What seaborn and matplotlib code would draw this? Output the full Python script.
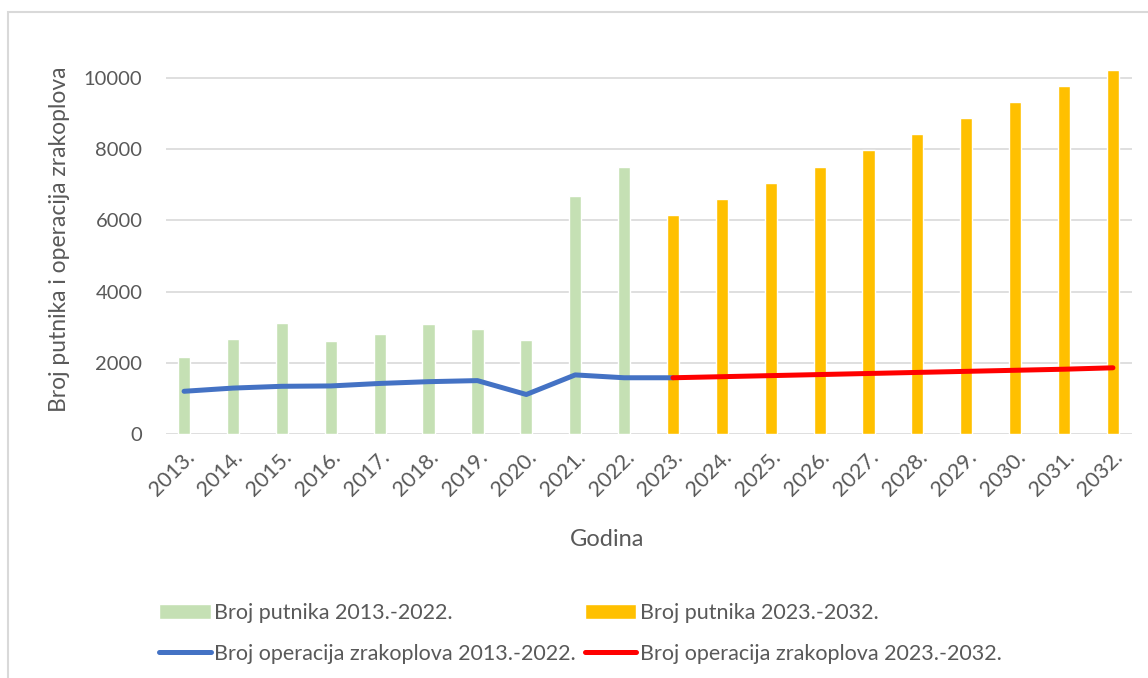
"""
Putnici i operacije zrakoplova 2013.-2032.
"""

import matplotlib
matplotlib.use("Agg")
import matplotlib.pyplot as plt
from matplotlib.patches import Patch, Rectangle
from matplotlib.lines import Line2D
import numpy as np
import pandas as pd
import seaborn as sns

years = [f"{y}." for y in range(2013, 2033)]
passengers_hist = [2160, 2670, 3110, 2610, 2810, 3080, 2950, 2650, 6700, 7510]
passengers_proj = [6150, 6600, 7060, 7510, 7970, 8420, 8870, 9320, 9770, 10230]
# blue line runs on to 2023. where the red one starts
operations_hist = [1200, 1290, 1340, 1350, 1420, 1470, 1500, 1110, 1660, 1580, 1580]
operations_proj = [1580, 1610, 1640, 1670, 1700, 1730, 1760, 1790, 1820, 1860]

lab_bar_hist = "Broj putnika 2013.-2022."
lab_bar_proj = "Broj putnika 2023.-2032."
lab_line_hist = "Broj operacija zrakoplova 2013.-2022."
lab_line_proj = "Broj operacija zrakoplova 2023.-2032."

GREEN = "#C5E0B4"
ORANGE = "#FFC000"
BLUE = "#4472C4"
RED = "#FF0000"
GRAY = "#595959"

sns.set_style("white")
plt.rcParams["font.family"] = ["Lato", "DejaVu Sans"]

bars = pd.DataFrame({
    "godina": years,
    "putnici": passengers_hist + passengers_proj,
    "serija": [lab_bar_hist] * len(passengers_hist) + [lab_bar_proj] * len(passengers_proj),
})
lines = pd.DataFrame({
    "pos": list(range(len(operations_hist))) +
           list(range(len(passengers_hist), len(passengers_hist) + len(operations_proj))),
    "operacije": operations_hist + operations_proj,
    "serija": [lab_line_hist] * len(operations_hist) + [lab_line_proj] * len(operations_proj),
})

fig = plt.figure(figsize=(11.48, 6.78), dpi=100)
ax = fig.add_axes([166 / 1148, 1 - 434 / 678, (1132 - 166) / 1148, (434 - 46) / 678])

sns.barplot(data=bars, x="godina", y="putnici", hue="serija",
            palette=[GREEN, ORANGE], dodge=False, width=0.25,
            saturation=1, legend=False, ax=ax)
sns.lineplot(data=lines, x="pos", y="operacije", hue="serija",
             palette=[BLUE, RED], linewidth=3.6, legend=False, ax=ax,
             solid_capstyle="round")

ax.set_xlim(-0.37, len(years) - 1 + 0.39)
ax.set_ylim(0, 10900)
ax.set_yticks(np.arange(0, 10001, 2000))
ax.set_axisbelow(True)
ax.yaxis.grid(True, color="#D9D9D9", linewidth=1.2)
sns.despine(ax=ax, left=True, bottom=True)

ax.tick_params(axis="both", length=0, labelcolor=GRAY)
ax.tick_params(axis="y", pad=17, labelsize=14.5)
ax.tick_params(axis="x", pad=9, labelsize=15.5)
plt.setp(ax.get_xticklabels(), rotation=45, ha="right", rotation_mode="anchor")

ax.set_xlabel("Godina", fontsize=17, color=GRAY)
ax.xaxis.set_label_coords(0.4565, -0.245)
ax.set_ylabel("Broj putnika i operacija zrakoplova", fontsize=16.5, color=GRAY)
ax.yaxis.set_label_coords(-0.099, 0.5026)

handles = [
    Patch(facecolor=GREEN, label=lab_bar_hist),
    Line2D([], [], color=BLUE, lw=3.6, solid_capstyle="round", label=lab_line_hist),
    Patch(facecolor=ORANGE, label=lab_bar_proj),
    Line2D([], [], color=RED, lw=3.6, solid_capstyle="round", label=lab_line_proj),
]
fig.legend(handles=handles, ncol=2, loc="upper left",
           bbox_to_anchor=(140 / 1148, 1 - 584 / 678), frameon=False,
           fontsize=15.5, labelcolor=GRAY, handlelength=2.4, handleheight=0.7,
           handletextpad=0.15, columnspacing=0.4, labelspacing=0.95)

# outer chart frame (cropped at right and bottom)
fig.patches.append(Rectangle((8 / 1148, -0.05), 1.1, 1 - 12 / 678 + 0.05,
                             transform=fig.transFigure, fill=False,
                             edgecolor="#D9D9D9", linewidth=1.5))

fig.savefig("out.png", dpi=100)
